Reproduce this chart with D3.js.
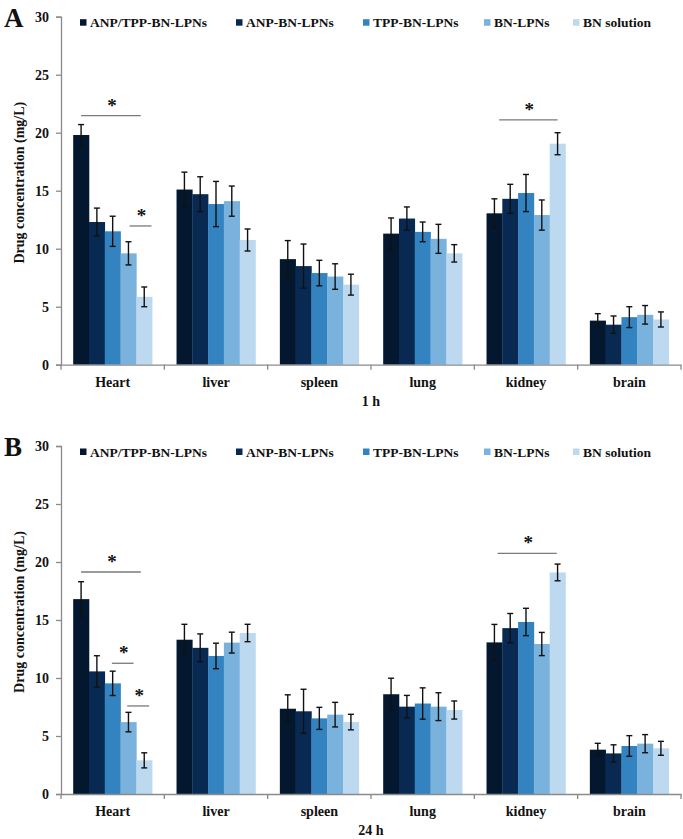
<!DOCTYPE html>
<html>
<head>
<meta charset="utf-8">
<script src="https://cdn.jsdelivr.net/npm/d3@7"></script>
<style>
html,body{margin:0;padding:0;background:#ffffff;}
svg text{font-family:"Liberation Serif","Times New Roman",serif;font-weight:bold;fill:#111;}
</style>
</head>
<body>
<svg id="chart" width="683" height="839"></svg>
<script>
// ---- data ----
const categories = ["Heart", "liver", "spleen", "lung", "kidney", "brain"];
const seriesNames = ["ANP/TPP-BN-LPNs", "ANP-BN-LPNs", "TPP-BN-LPNs", "BN-LPNs", "BN solution"];
const seriesColors = ["#03172f", "#082a52", "#3483c1", "#79b2dc", "#bdd9ef"];
const yTicks = [0, 5, 10, 15, 20, 25, 30];

// 1 h (panel A): values per series across categories
const valuesA = [
  [19.8, 15.1, 9.1, 11.3, 13.05, 3.8],
  [12.3, 14.7, 8.5, 12.6, 14.3, 3.45],
  [11.5, 13.85, 7.9, 11.45, 14.8, 4.1],
  [9.6, 14.1, 7.6, 10.85, 12.9, 4.3],
  [5.85, 10.75, 6.9, 9.6, 19.05, 3.9]
];
const errorsA = [
  [0.9, 1.5, 1.6, 1.35, 1.25, 0.6],
  [1.2, 1.5, 1.9, 1.0, 1.25, 0.75],
  [1.3, 1.95, 1.1, 0.85, 1.6, 0.9],
  [1.0, 1.3, 1.1, 1.25, 1.3, 0.8],
  [0.85, 0.95, 0.9, 0.75, 0.95, 0.65]
];
// 24 h (panel B)
const valuesB = [
  [16.8, 13.3, 7.35, 8.6, 13.07, 3.82],
  [10.57, 12.6, 7.13, 7.53, 14.3, 3.5],
  [9.54, 11.9, 6.52, 7.8, 14.83, 4.14],
  [6.2, 13.05, 6.84, 7.53, 12.93, 4.34],
  [2.9, 13.88, 6.2, 7.24, 19.1, 3.94]
];
const errorsB = [
  [1.5, 1.33, 1.2, 1.38, 1.55, 0.55],
  [1.35, 1.2, 1.9, 0.97, 1.26, 0.74],
  [1.05, 1.1, 0.95, 1.35, 1.18, 0.89],
  [0.84, 0.9, 1.06, 1.2, 1.0, 0.78],
  [0.65, 0.75, 0.67, 0.78, 0.72, 0.6]
];
// significance markers: [category, start (bar units), end (bar units), y value]
const sigA = [["Heart", 0.5, 4.28, 21.47], ["Heart", 3.57, 4.96, 11.96], ["kidney", 0.8, 4.5, 21.1]];
const sigB = [["Heart", 0.5, 4.28, 19.14], ["Heart", 2.45, 3.82, 11.27], ["Heart", 3.42, 4.81, 7.59], ["kidney", 0.7, 4.45, 20.75]];

const panels = [
  {letter: "A", xTitle: "1 h", values: valuesA, errors: errorsA, sig: sigA, top: 16.7, bottom: 364.7},
  {letter: "B", xTitle: "24 h", values: valuesB, errors: errorsB, sig: sigB, top: 446, bottom: 794}
];

const svg = d3.select("#chart");
const axisColor = "#8a8a8a";
const fs = 14;

panels.forEach(p => {
  const g = svg.append("g");
  const y = d3.scaleLinear().domain([0, 30]).range([p.bottom, p.top]);
  const x0 = d3.scaleBand().domain(categories).range([61, 681]).padding(0);
  const bw = x0.bandwidth();
  const x1 = d3.scaleBand().domain(d3.range(seriesNames.length)).range([0.118 * bw, 0.882 * bw]).padding(0);
  const barW = x1.bandwidth();

  // y axis
  const yAxis = g.append("g").attr("transform", "translate(61,0)")
    .call(d3.axisLeft(y).tickValues(yTicks).tickSize(5).tickPadding(7).tickFormat(d3.format("d")));
  yAxis.select(".domain").attr("stroke", axisColor).attr("stroke-width", 1.3);
  yAxis.selectAll(".tick line").attr("stroke", axisColor).attr("stroke-width", 1.3);
  yAxis.selectAll(".tick text").attr("font-size", fs).attr("font-family", "Liberation Serif").attr("font-weight", "bold").attr("fill", "#111");

  // bars
  p.values.forEach((vals, si) => {
    g.append("g").selectAll("rect").data(vals).join("rect")
      .attr("x", (d, ci) => x0(categories[ci]) + x1(si))
      .attr("y", d => y(d))
      .attr("width", barW + 0.3)
      .attr("height", d => y(0) - y(d))
      .attr("fill", seriesColors[si]);
  });

  // error bars
  p.values.forEach((vals, si) => {
    const eg = g.append("g").attr("stroke", "#111").attr("stroke-width", 1.4);
    vals.forEach((v, ci) => {
      const e = p.errors[si][ci];
      const cx = x0(categories[ci]) + x1(si) + barW / 2;
      eg.append("line").attr("x1", cx).attr("x2", cx).attr("y1", y(v + e)).attr("y2", y(v - e));
      eg.append("line").attr("x1", cx - 3).attr("x2", cx + 3).attr("y1", y(v + e)).attr("y2", y(v + e));
      eg.append("line").attr("x1", cx - 3).attr("x2", cx + 3).attr("y1", y(v - e)).attr("y2", y(v - e));
    });
  });

  // x axis
  const xAxis = g.append("g").attr("transform", `translate(0,${p.bottom})`)
    .call(d3.axisBottom(x0).tickSize(0).tickPadding(12));
  xAxis.select(".domain").attr("stroke", axisColor).attr("stroke-width", 1.3);
  xAxis.selectAll(".tick text").attr("font-size", fs).attr("font-family", "Liberation Serif").attr("font-weight", "bold").attr("fill", "#111");
  // boundary ticks
  const bounds = categories.map(c => x0(c)).concat([x0(categories[categories.length - 1]) + bw]);
  g.append("g").selectAll("line").data(bounds).join("line")
    .attr("x1", d => d).attr("x2", d => d)
    .attr("y1", p.bottom).attr("y2", p.bottom + 5)
    .attr("stroke", axisColor).attr("stroke-width", 1.3);

  // x title
  g.append("text").attr("x", 371).attr("y", p.bottom + 41).attr("text-anchor", "middle")
    .attr("font-size", fs).text(p.xTitle);

  // y title
  g.append("text")
    .attr("transform", `translate(24,${(p.top + p.bottom) / 2 - 8}) rotate(-90)`)
    .attr("text-anchor", "middle").attr("font-size", fs).text("Drug concentration (mg/L)");

  // panel letter
  g.append("text").attr("x", 4).attr("y", p.top + 10).attr("font-size", 27).text(p.letter);

  // legend
  const legX = [80, 236, 363, 484, 573];
  const lg = g.append("g");
  seriesNames.forEach((s, i) => {
    lg.append("rect").attr("x", legX[i]).attr("y", p.top + 2.5).attr("width", 6.5).attr("height", 6.5).attr("fill", seriesColors[i]);
    lg.append("text").attr("x", legX[i] + 10).attr("y", p.top + 10.5).attr("font-size", 13.5).text(s);
  });

  // significance
  p.sig.forEach(([cat, a, b, v]) => {
    const gx = x0(cat) + x1(0);
    const xa = gx + a * barW, xb = gx + b * barW;
    g.append("line").attr("x1", xa).attr("x2", xb).attr("y1", y(v)).attr("y2", y(v))
      .attr("stroke", "#7a7a7a").attr("stroke-width", 1.3);
    g.append("text").attr("x", (xa + xb) / 2 + 1).attr("y", y(v) - 4).attr("text-anchor", "middle")
      .attr("font-size", 19).text("*");
  });
});
</script>
</body>
</html>
